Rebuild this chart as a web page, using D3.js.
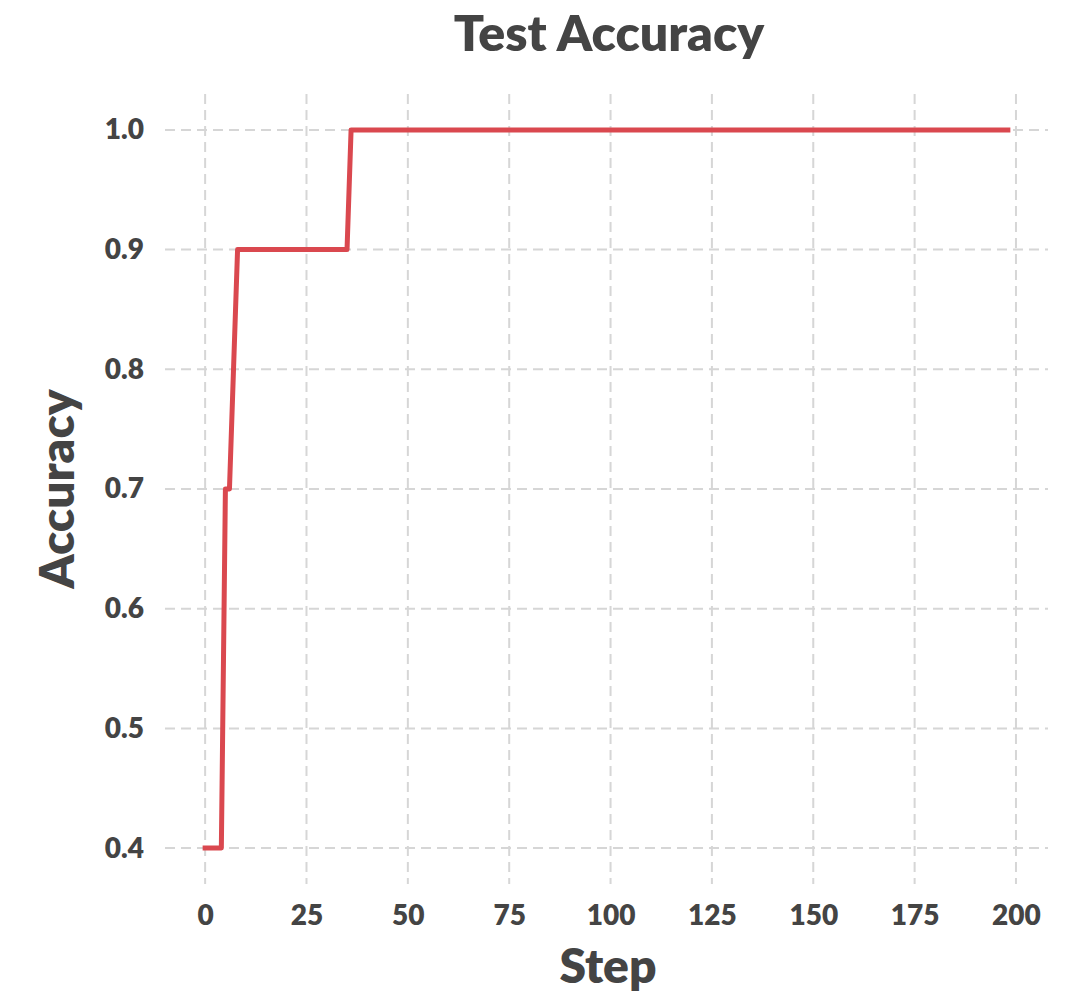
<!DOCTYPE html>
<html>
<head>
<meta charset="utf-8">
<script src="https://cdn.jsdelivr.net/npm/d3@7"></script>
<style>
  html, body { margin: 0; padding: 0; background: #fff; }
  svg text { font-family: Lato, "Open Sans", "DejaVu Sans", sans-serif; font-weight: 800; fill: #444; }
</style>
</head>
<body>
<svg id="chart" width="1073" height="992"></svg>
<script>
// Data: steps where the accuracy value changes (straight segments between them)
const steps = [0, 4, 5, 6, 7, 8, 35, 36, 198];
const accuracy = [0.4, 0.4, 0.7, 0.7, 0.8, 0.9, 0.9, 1.0, 1.0];
const xTicks = [0, 25, 50, 75, 100, 125, 150, 175, 200];
const yTicks = [0.4, 0.5, 0.6, 0.7, 0.8, 0.9, 1.0];
const title = "Test Accuracy";
const xLabel = "Step";
const yLabel = "Accuracy";

(function () {
const svg = d3.select("#chart");
const pLeft = 165, pRight = 1048, pTop = 94, pBottom = 884;

const x = d3.scaleLinear().domain([-9.9, 207.9]).range([pLeft, pRight]);
const y = d3.scaleLinear().domain([0.37, 1.03]).range([pBottom, pTop]);

// Grid
const grid = svg.append("g").attr("stroke", "#d6d6d6").attr("stroke-width", 2).attr("stroke-dasharray", "10,6");
grid.selectAll("line.v").data(xTicks).join("line").attr("class", "v")
  .attr("x1", d => x(d)).attr("x2", d => x(d)).attr("y1", pTop).attr("y2", pBottom);
grid.selectAll("line.h").data(yTicks).join("line").attr("class", "h")
  .attr("y1", d => y(d)).attr("y2", d => y(d)).attr("x1", pLeft).attr("x2", pRight);

// Axes (labels only)
const xAxis = d3.axisBottom(x).tickValues(xTicks).tickSize(0).tickPadding(21).tickFormat(d3.format("d"));
const gx = svg.append("g").attr("transform", `translate(0,${pBottom})`).call(xAxis);
gx.select(".domain").remove();
gx.attr("font-family", null).attr("font-size", null);
gx.selectAll("text").attr("font-size", 28).attr("fill", "#444");

const yAxis = d3.axisLeft(y).tickValues(yTicks).tickSize(0).tickPadding(21).tickFormat(d3.format(".1f"));
const gy = svg.append("g").attr("transform", `translate(${pLeft},0)`).call(yAxis);
gy.select(".domain").remove();
gy.attr("font-family", null).attr("font-size", null);
gy.selectAll("text").attr("font-size", 28).attr("fill", "#444");

// Line
const pts = steps.map((s, i) => [s, accuracy[i]]);
svg.append("path").datum(pts)
  .attr("fill", "none").attr("stroke", "#da484f").attr("stroke-width", 5)
  .attr("stroke-linejoin", "round").attr("stroke-linecap", "square")
  .attr("d", d3.line().x(d => x(d[0])).y(d => y(d[1])));

// Titles
svg.append("text").attr("x", 609).attr("y", 51).attr("text-anchor", "middle")
  .attr("font-size", 50).text(title);
svg.append("text").attr("x", 608).attr("y", 983).attr("text-anchor", "middle")
  .attr("font-size", 48).text(xLabel);
svg.append("text").attr("transform", "translate(74,489) rotate(-90)").attr("text-anchor", "middle")
  .attr("font-size", 48).text(yLabel);
})();
</script>
</body>
</html>
